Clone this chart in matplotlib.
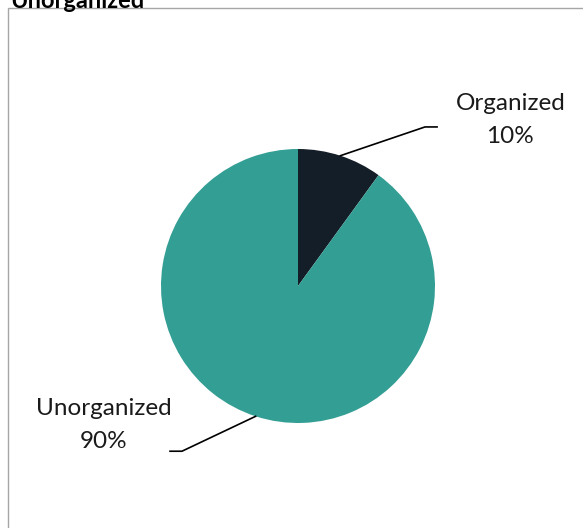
import numpy as np
import matplotlib.pyplot as plt
from matplotlib.patches import Rectangle

labels = ["Organized", "Unorganized"]
values = [10, 90]
colors = ["#141e28", "#339e94"]
title = "Unorganized"

plt.rcParams['font.family'] = ['Lato', 'DejaVu Sans']

W, H = 583, 528
fig = plt.figure(figsize=(W / 100, H / 100), dpi=100)

# chart border (runs off the right and bottom edge)
fig.patches.append(Rectangle((8 / W, -0.1), 1.2, (H - 8) / H + 0.1,
                             transform=fig.transFigure, fill=False,
                             edgecolor="#a6a6a6", lw=1.0))
fig.text(10 / W, 1.0, title, fontsize=17, fontweight="bold",
         ha="left", va="center", color="#000000")

cx, cy, r = 298, 286, 137
ax = fig.add_axes([(cx - r) / W, (H - cy - r) / H, 2 * r / W, 2 * r / H])
wedges, _ = ax.pie(values, colors=colors, startangle=90, counterclock=False,
                   radius=1, wedgeprops=dict(linewidth=0))
ax.set_xlim(-1, 1)
ax.set_ylim(-1, 1)
ax.set_aspect("equal")
ax.axis("off")

# label layout: elbow point, line end, text centre (in pie radii)
layout = {
    "Organized": ((0.927, 1.161), (1.015, 1.161), (1.55, 1.21)),
    "Unorganized": ((-0.847, -1.206), (-0.934, -1.206), (-1.42, -1.015)),
}

total = sum(values)
for w, lab, v in zip(wedges, labels, values):
    ang = np.deg2rad((w.theta1 + w.theta2) / 2)
    p0 = (np.cos(ang), np.sin(ang))
    elbow, end, txt = layout[lab]
    ax.plot([p0[0], elbow[0], end[0]], [p0[1], elbow[1], end[1]],
            color="black", lw=1.2, clip_on=False)
    ax.text(txt[0], txt[1], f"{lab}\n{round(100 * v / total)}%",
            ha="center", va="center", fontsize=17.5, color="#1a1a1a",
            linespacing=1.7, clip_on=False)

fig.savefig("out.png", dpi=100)
